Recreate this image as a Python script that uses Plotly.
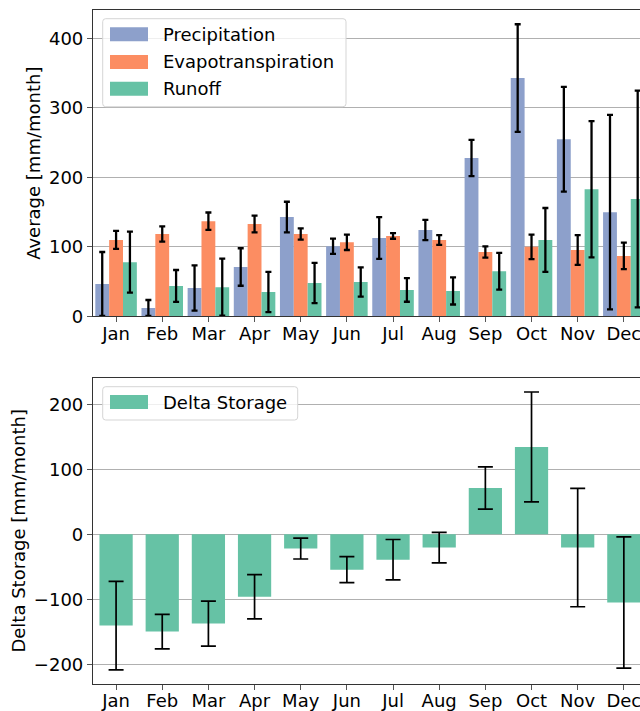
import plotly.graph_objects as go

months = ["Jan", "Feb", "Mar", "Apr", "May", "Jun", "Jul", "Aug", "Sep", "Oct", "Nov", "Dec"]

precip = [46.6, 12, 40.8, 71, 143, 101, 112.8, 124.3, 228, 343, 255, 150]
precip_err = [46, 11.5, 32.5, 27, 22, 11, 30, 14.5, 26, 77.5, 75.5, 140]
evap = [110, 118.5, 137, 133, 118.5, 106.5, 115.7, 110, 92.6, 100, 95.5, 87]
evap_err = [13, 11, 12.5, 12, 8, 11, 4, 7, 8, 17.5, 21.5, 19]
runoff = [78, 43.7, 42, 35, 48, 49.4, 38, 36.5, 65, 110, 183, 169]
runoff_err = [44, 23, 41, 29, 29, 21, 17, 19.5, 26.5, 46, 98, 156]
dstorage = [-140.5, -149.7, -137.4, -96, -22, -54.4, -39, -20.5, 71.3, 134.4, -20.5, -105]
dstorage_err = [68, 26.5, 34.5, 34, 16, 20, 31, 23.5, 32.5, 84.5, 91, 101]

top_names = ["Precipitation", "Evapotranspiration", "Runoff"]
top_colors = ["#8da0cb", "#fc8d62", "#66c2a5"]
bottom_name = "Delta Storage"
bottom_color = "#66c2a5"

W, H = 640, 711
ML = 93
FONT = "DejaVu Sans"
FS = 18

fig = go.Figure()

for name, vals, errs, col in zip(top_names, [precip, evap, runoff],
                                 [precip_err, evap_err, runoff_err], top_colors):
    fig.add_trace(go.Bar(
        x=months, y=vals, name=name, marker=dict(color=col, line=dict(width=0)),
        error_y=dict(type="data", array=errs, color="black", thickness=2.3, width=3),
        xaxis="x", yaxis="y", showlegend=False, offsetgroup=name,
    ))

fig.add_trace(go.Bar(
    x=months, y=dstorage, name=bottom_name, width=0.72,
    marker=dict(color=bottom_color, line=dict(width=0)),
    error_y=dict(type="data", array=dstorage_err, color="black", thickness=1.7, width=7.5),
    xaxis="x2", yaxis="y2", showlegend=False,
))


def px(x):
    return (x - ML) / (W - ML)


def py(y):
    return (H - y) / H


def rounded_box(x0, y0, x1, y1, r=3):
    rx = r / (W - ML)
    ry = r / H
    X0, X1 = px(x0), px(x1)
    Y0, Y1 = py(y0), py(y1)
    return (f"M{X0+rx},{Y0} L{X1-rx},{Y0} Q{X1},{Y0} {X1},{Y0-ry} "
            f"L{X1},{Y1+ry} Q{X1},{Y1} {X1-rx},{Y1} L{X0+rx},{Y1} "
            f"Q{X0},{Y1} {X0},{Y1+ry} L{X0},{Y0-ry} Q{X0},{Y0} {X0+rx},{Y0} Z")


shapes = []
annotations = []

# legend for top panel
shapes.append(dict(type="path", xref="paper", yref="paper",
                   path=rounded_box(102.7, 18.7, 346, 106.7),
                   fillcolor="rgba(255,255,255,0.8)", line=dict(color="#d5d5d5", width=1),
                   layer="above"))
row_centers = [34.2, 62.0, 88.8]
for name, col, yc in zip(top_names, top_colors, row_centers):
    shapes.append(dict(type="rect", xref="paper", yref="paper",
                       x0=px(110), x1=px(148), y0=py(yc - 7), y1=py(yc + 7),
                       fillcolor=col, line=dict(width=0), layer="above"))
    annotations.append(dict(text=name, xref="paper", yref="paper", x=px(161), y=py(yc),
                            xanchor="left", yanchor="middle", showarrow=False,
                            font=dict(family=FONT, size=FS, color="black")))

# legend for bottom panel
shapes.append(dict(type="path", xref="paper", yref="paper",
                   path=rounded_box(102.7, 386.7, 297.7, 420),
                   fillcolor="rgba(255,255,255,0.8)", line=dict(color="#d5d5d5", width=1),
                   layer="above"))
shapes.append(dict(type="rect", xref="paper", yref="paper",
                   x0=px(110), x1=px(148), y0=py(402 - 7), y1=py(402 + 7),
                   fillcolor=bottom_color, line=dict(width=0), layer="above"))
annotations.append(dict(text=bottom_name, xref="paper", yref="paper", x=px(161), y=py(402.5),
                        xanchor="left", yanchor="middle", showarrow=False,
                        font=dict(family=FONT, size=FS, color="black")))

xrange = [-0.5, 11.35]
axis_common = dict(showline=True, linecolor="#333333", linewidth=1.2,
                   ticks="outside", ticklen=5, tickwidth=1, tickcolor="#555555",
                   tickfont=dict(family=FONT, size=FS, color="black"),
                   automargin=False)

fig.update_layout(
    width=W, height=H,
    margin=dict(l=ML, r=0, t=0, b=0),
    paper_bgcolor="white", plot_bgcolor="white",
    barmode="group", bargap=0.1, bargroupgap=0,
    font=dict(family=FONT, size=FS, color="black"),
    xaxis=dict(domain=[0, 1], anchor="y", type="category", range=xrange,
               mirror=True, showgrid=False, ticklabelstandoff=-4, **axis_common),
    yaxis=dict(domain=[0.5551, 0.9859], anchor="x", range=[0, 441],
               tickvals=[0, 100, 200, 300, 400], showgrid=True, gridcolor="#b0b0b0",
               gridwidth=1, zeroline=False, mirror=False,
               title=dict(text="Average [mm/month]", standoff=3,
                          font=dict(family=FONT, size=FS, color="black")),
               **axis_common),
    xaxis2=dict(domain=[0, 1], anchor="y2", type="category", range=xrange,
                mirror=True, showgrid=False, ticklabelstandoff=-5, **axis_common),
    yaxis2=dict(domain=[0.03797, 0.4688], anchor="x2", range=[-230.3, 240.9],
                tickvals=[-200, -100, 0, 100, 200], showgrid=True, gridcolor="#b0b0b0",
                gridwidth=1, zeroline=False, mirror=False,
                title=dict(text="Delta Storage [mm/month]", standoff=3,
                           font=dict(family=FONT, size=FS, color="black")),
                **axis_common),
    shapes=shapes,
    annotations=annotations,
)

fig.write_html("out.html")
